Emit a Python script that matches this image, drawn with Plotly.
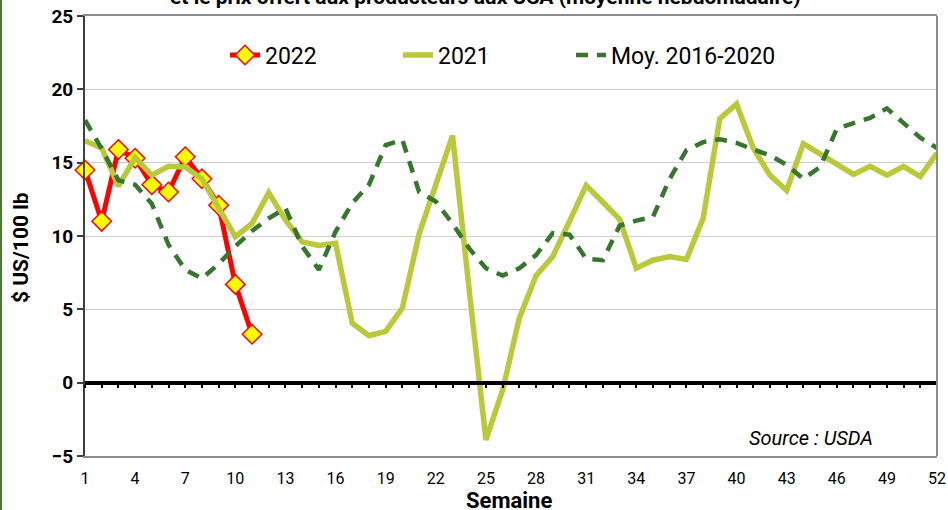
import plotly.graph_objects as go

weeks = list(range(1, 53))
weeks_2022 = list(range(1, 12))

v2022 = [14.5, 11.0, 15.9, 15.3, 13.5, 13.0, 15.4, 13.9, 12.1, 6.7, 3.3]

v2021 = [16.5, 16.0, 13.4, 15.35, 14.15, 14.75, 14.7, 13.9, 11.9, 9.95,
         10.85, 12.95, 11.1, 9.6, 9.35, 9.5, 4.05, 3.2, 3.5, 5.1,
         10.15, 13.6, 16.85, 6.3, -3.9, -0.5, 4.4, 7.3, 8.6, 11.0,
         13.45, 12.3, 11.15, 7.8, 8.35, 8.6, 8.4, 11.2, 18.0, 19.0,
         16.0, 14.15, 13.1, 16.3, 15.55, 14.9, 14.2, 14.75, 14.15, 14.75,
         14.05, 15.65]

vavg = [17.9, 15.95, 13.8, 13.5, 12.2, 9.4, 7.7, 7.1, 8.1, 9.3,
        10.35, 11.2, 11.9, 9.3, 7.7, 10.3, 12.25, 13.5, 16.2, 16.55,
        13.0, 12.35, 10.85, 9.15, 7.8, 7.3, 7.8, 8.7, 10.2, 10.1,
        8.45, 8.35, 10.7, 11.05, 11.3, 13.9, 15.85, 16.4, 16.6, 16.35,
        15.9, 15.5, 14.85, 13.9, 14.7, 17.3, 17.7, 18.05, 18.7, 17.7,
        16.7, 16.0]

xtick_vals = list(range(1, 53, 3))

FONT = "Roboto, 'Open Sans', sans-serif"

fig = go.Figure()

fig.add_trace(go.Scatter(
    x=weeks_2022, y=v2022, name="2022", mode="lines+markers",
    line=dict(color="#FF0000", width=5),
    marker=dict(symbol="diamond", size=15, color="#FFFF00",
                line=dict(color="#FF0000", width=1.5)),
    cliponaxis=False,
))
fig.add_trace(go.Scatter(
    x=weeks, y=v2021, name="2021", mode="lines",
    line=dict(color="#BAC93A", width=5.5),
))
fig.add_trace(go.Scatter(
    x=weeks, y=vavg, name="Moy. 2016-2020", mode="lines",
    line=dict(color="#38762F", width=4.5, dash="12px,9px"),
    legendwidth=200,
))
# empty trace to host the zero-line axis
fig.add_trace(go.Scatter(
    x=[weeks[0], weeks[-1]], y=[None, None], xaxis="x2", showlegend=False,
    hoverinfo="skip", mode="lines",
))

fig.update_layout(
    width=948, height=510,
    margin=dict(l=85, r=11, t=16, b=54),
    paper_bgcolor="white", plot_bgcolor="white",
    font=dict(family=FONT, color="black"),
    showlegend=True,
    legend=dict(
        orientation="h", x=(225 - 85) / 852, y=(456 - 55) / 440,
        xanchor="left", yanchor="middle",
        font=dict(size=23, family=FONT, color="black"),
        bgcolor="rgba(0,0,0,0)", entrywidth=128, entrywidthmode="pixels",
    ),
    xaxis=dict(
        range=[1, 52], tickmode="array", tickvals=xtick_vals,
        ticks="", showgrid=False, zeroline=False,
        showline=True, linecolor="#8C8C8C", linewidth=2, mirror=True,
        tickfont=dict(size=16, family=FONT, color="black"),
        ticklabelstandoff=7, automargin=False,
    ),
    xaxis2=dict(
        overlaying="x", anchor="free", position=1 / 6, side="bottom",
        range=[1, 52], tickmode="linear", tick0=1, dtick=1,
        ticks="outside", ticklen=3, tickwidth=2, tickcolor="black",
        showline=True, linecolor="black", linewidth=4,
        showticklabels=False, showgrid=False, zeroline=False,
        automargin=False,
    ),
    yaxis=dict(
        range=[-5, 25], tickmode="linear", tick0=-5, dtick=5,
        showgrid=True, gridcolor="#D0D0D0", gridwidth=1, zeroline=False,
        showline=True, linecolor="#404040", linewidth=2,
        ticks="outside", ticklen=6, tickcolor="#404040", tickwidth=1.5,
        tickfont=dict(size=19, family=FONT, color="black", weight="bold"),
        automargin=False,
    ),
    annotations=[
        dict(text="et le prix offert aux producteurs aux USA (moyenne hebdomadaire)",
             xref="paper", yref="paper", x=(485 - 85) / 852, y=(456 - 11) / 440,
             xanchor="center", yanchor="bottom", showarrow=False,
             font=dict(size=21, family=FONT, color="black", weight="bold")),
        dict(text="$ US/100 lb", textangle=-90,
             xref="paper", yref="paper", x=(21 - 85) / 852, y=(456 - 248) / 440,
             xanchor="center", yanchor="middle", showarrow=False,
             font=dict(size=21, family=FONT, color="black", weight="bold")),
        dict(text="Semaine",
             xref="paper", yref="paper", x=(509 - 85) / 852, y=(456 - 500) / 440,
             xanchor="center", yanchor="middle", showarrow=False,
             font=dict(size=22, family=FONT, color="black", weight="bold")),
        dict(text="Source : USDA",
             xref="paper", yref="paper", x=(811 - 85) / 852, y=(456 - 438) / 440,
             xanchor="center", yanchor="middle", showarrow=False,
             font=dict(size=20, family=FONT, color="black", style="italic")),
    ],
    shapes=[
        dict(type="line", xref="paper", yref="paper", x0=1, x1=1, y0=0, y1=1,
             line=dict(color="#8C8C8C", width=2)),
        dict(type="line", xref="paper", yref="paper",
             x0=(1 - 85) / 852, x1=(1 - 85) / 852,
             y0=(456 - 512) / 440, y1=(456 + 2) / 440,
             line=dict(color="#4E7A36", width=2)),
    ],
)

fig.write_html(
    "out.html",
    config={"displayModeBar": False},
    post_script="document.body.style.margin='0';document.body.style.padding='0';"
                "document.body.style.overflow='hidden';",
)
